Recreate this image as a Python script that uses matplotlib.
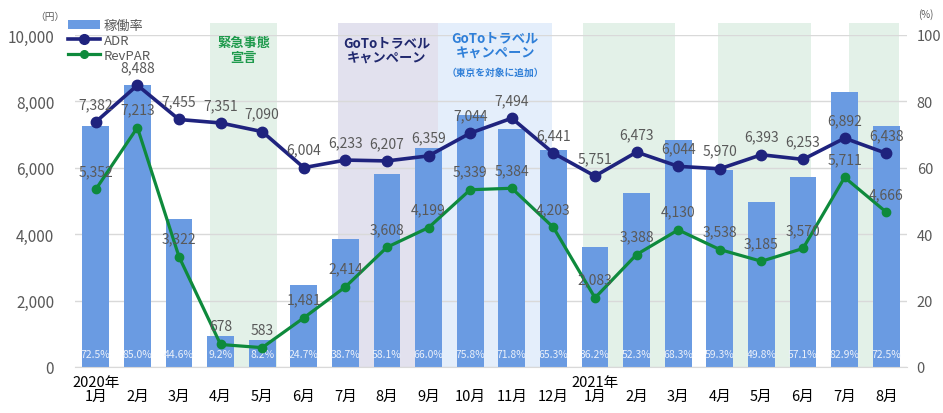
import numpy as np
import matplotlib
matplotlib.use("Agg")
import matplotlib.pyplot as plt
from matplotlib.patches import Rectangle
from matplotlib.lines import Line2D
from matplotlib.patches import Patch

plt.rcParams['font.family'] = ['Noto Sans CJK JP', 'DejaVu Sans']

months = ["2020年\n1月", "\n2月", "\n3月", "\n4月", "\n5月", "\n6月", "\n7月", "\n8月", "\n9月", "\n10月",
          "\n11月", "\n12月", "2021年\n1月", "\n2月", "\n3月", "\n4月", "\n5月", "\n6月", "\n7月", "\n8月"]
occupancy = [72.5, 85.0, 44.6, 9.2, 8.2, 24.7, 38.7, 58.1, 66.0, 75.8, 71.8, 65.3,
             36.2, 52.3, 68.3, 59.3, 49.8, 57.1, 82.9, 72.5]
adr = [7382, 8488, 7455, 7351, 7090, 6004, 6233, 6207, 6359, 7044, 7494, 6441,
       5751, 6473, 6044, 5970, 6393, 6253, 6892, 6438]
revpar = [5352, 7213, 3322, 678, 583, 1481, 2414, 3608, 4199, 5339, 5384, 4203,
          2083, 3388, 4130, 3538, 3185, 3570, 5711, 4666]

# period shading (category units) and colours
periods = [(2.75, 4.36, "#E3F1E8"), (5.83, 8.23, "#E2E1EE"), (8.23, 10.97, "#E4EEFB"),
           (11.72, 13.93, "#E3F1E8"), (14.96, 17.2, "#E3F1E8"), (18.11, 19.3, "#E3F1E8")]

BAR_C = "#6A9BE2"
ADR_C = "#1F237E"
REV_C = "#0E8A3C"
TXT_C = "#595959"

fig = plt.figure(figsize=(9.43, 4.14), dpi=100)
ax = fig.add_axes([75/943, 1-368/414, 832/943, 332/414])
x = np.arange(len(months))

# shading
for a, b, c in periods:
    ax.add_patch(Rectangle((a, 0), b - a, 103.6, facecolor=c, edgecolor='none',
                           zorder=0.1, clip_on=False))

ax.set_axisbelow(True)
ax.grid(axis='y', color="#D9D9D9", linewidth=1.0)
bars = ax.bar(x, occupancy, width=0.64, color=BAR_C, zorder=2)
for xi, v in zip(x, occupancy):
    ax.text(xi, 3.8, f"{v:.1f}%", ha='center', va='center', color="#EAF0FA", fontsize=7.5, zorder=3)

ax.set_xlim(-0.5, 19.5)
ax.set_ylim(0, 100)
ax.set_xticks(x)
ax.set_xticklabels(months, fontsize=10.5, linespacing=1.0)
ax.tick_params(axis='x', length=0, pad=6, labelcolor="#000000")
for s in ['top', 'left', 'right']:
    ax.spines[s].set_visible(False)
ax.spines['bottom'].set_color("#D9D9D9")

ax2 = ax.twinx()
ax2.set_ylim(0, 10000)
ax2.yaxis.tick_left()
ax2.set_yticks(np.arange(0, 10001, 2000))
ax2.set_yticklabels([f"{v:,}" for v in range(0, 10001, 2000)])
ax2.tick_params(axis='y', length=0, pad=15, labelsize=11, labelcolor=TXT_C)
for s in ['top', 'left', 'right', 'bottom']:
    ax2.spines[s].set_visible(False)

# right axis for occupancy (after twinx, which moves ticks)
ax.yaxis.tick_right()
ax.set_yticks(np.arange(0, 101, 20))
ax.tick_params(axis='y', left=False, labelleft=False, right=False, labelright=True,
               length=0, pad=7, labelsize=10.5, labelcolor=TXT_C)

ax2.plot(x, adr, color=ADR_C, lw=2.6, marker='o', ms=7.5, zorder=5)
ax2.plot(x, revpar, color=REV_C, lw=2.3, marker='o', ms=6, zorder=4)
for xi, v in zip(x, adr):
    ax2.annotate(f"{v:,}", (xi, v), xytext=(0, 8), textcoords='offset points',
                 ha='center', va='bottom', fontsize=10, color=TXT_C, zorder=6)
for xi, v in zip(x, revpar):
    ax2.annotate(f"{v:,}", (xi, v), xytext=(0, 8), textcoords='offset points',
                 ha='center', va='bottom', fontsize=10, color=TXT_C, zorder=6)

# period captions
ax.text(3.55, 95.5, "緊急事態\n宣言", ha='center', va='center', fontsize=9.5,
        fontweight='bold', color="#1E9A4C", linespacing=1.1, zorder=7)
ax.text(7.0, 95.5, "GoToトラベル\nキャンペーン", ha='center', va='center', fontsize=9.5,
        fontweight='bold', color="#20286E", linespacing=1.1, zorder=7)
ax.text(9.6, 97.0, "GoToトラベル\nキャンペーン", ha='center', va='center', fontsize=9.5,
        fontweight='bold', color="#2F7FD8", linespacing=1.1, zorder=7)
ax.text(9.6, 88.8, "（東京を対象に追加）", ha='center', va='center', fontsize=7,
        fontweight='bold', color="#2F7FD8", zorder=7)

fig.text(50/943, 1-17/414, "（円）", ha='center', va='center', fontsize=7, color=TXT_C)
fig.text(926/943, 1-15/414, "(%)", ha='center', va='center', fontsize=7, color=TXT_C)

handles = [Patch(facecolor=BAR_C, edgecolor='none'),
           Line2D([], [], color=ADR_C, lw=2.6, marker='o', ms=7),
           Line2D([], [], color=REV_C, lw=2.3, marker='o', ms=5.5)]
leg = fig.legend(handles, ["稼働率", "ADR", "RevPAR"], loc='upper left',
                 bbox_to_anchor=(68/943, 1-20/414), frameon=False, fontsize=9.5,
                 handlelength=2.4, handletextpad=0.3, labelspacing=0.15, borderpad=0,
                 borderaxespad=0)
for t in leg.get_texts():
    t.set_color(TXT_C)
leg.set_zorder(10)

fig.savefig("out.png", dpi=100)
